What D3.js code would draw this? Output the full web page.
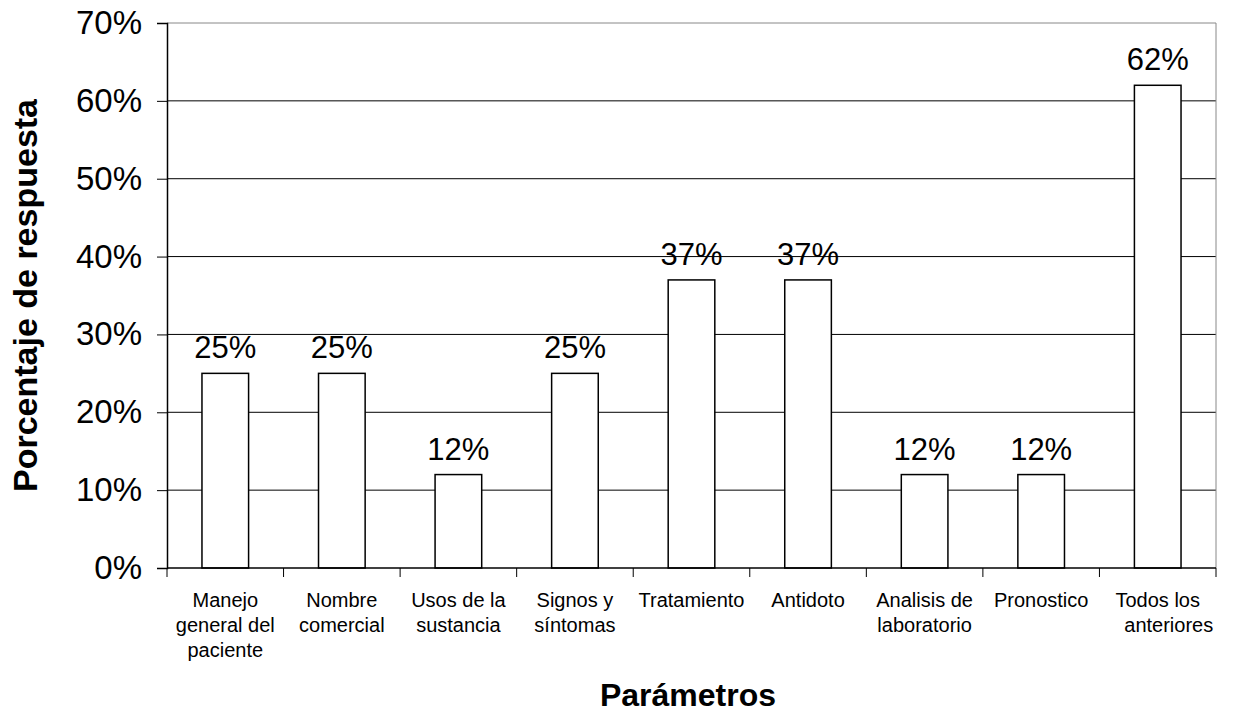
<!DOCTYPE html>
<html>
<head>
<meta charset="utf-8">
<script src="https://cdn.jsdelivr.net/npm/d3@7"></script>
<style>
  body { margin: 0; background: #fff; }
  svg { display: block; font-family: Arial, "Liberation Sans", sans-serif; }
</style>
</head>
<body>
<div id="chart"></div>
<script>
const categories = [
  ["Manejo", "general del", "paciente"],
  ["Nombre", "comercial"],
  ["Usos de la", "sustancia"],
  ["Signos y", "síntomas"],
  ["Tratamiento"],
  ["Antidoto"],
  ["Analisis de", "laboratorio"],
  ["Pronostico"],
  ["Todos los", "anteriores"]
];
const values = [25, 25, 12, 25, 37, 37, 12, 12, 62];
const yTicks = [0, 10, 20, 30, 40, 50, 60, 70];

const width = 1233;
const height = 714;
const margin = { top: 23, right: 17, bottom: 146, left: 167 };

const svg = d3.select("#chart").append("svg")
    .attr("width", width)
    .attr("height", height);

const x = d3.scaleBand()
    .domain(d3.range(categories.length))
    .range([margin.left, width - margin.right]);

const y = d3.scaleLinear()
    .domain([0, 70])
    .range([height - margin.bottom, margin.top]);

// gridlines
svg.append("g")
    .selectAll("line")
    .data(yTicks.slice(1))
    .join("line")
    .attr("x1", margin.left)
    .attr("x2", width - margin.right)
    .attr("y1", d => y(d))
    .attr("y2", d => y(d))
    .attr("stroke", d => d === 70 ? "#888" : "#000")
    .attr("stroke-width", 1);

// right border
svg.append("line")
    .attr("x1", width - margin.right)
    .attr("x2", width - margin.right)
    .attr("y1", y(70))
    .attr("y2", y(0))
    .attr("stroke", "#888");

// bars
const barW = x.bandwidth() * 0.4;
svg.append("g")
    .selectAll("rect")
    .data(values)
    .join("rect")
    .attr("x", (d, i) => x(i) + (x.bandwidth() - barW) / 2)
    .attr("y", d => y(d))
    .attr("width", barW)
    .attr("height", d => y(0) - y(d))
    .attr("fill", "#fff")
    .attr("stroke", "#000")
    .attr("stroke-width", 1.5);

// data labels
svg.append("g")
    .selectAll("text")
    .data(values)
    .join("text")
    .attr("x", (d, i) => x(i) + x.bandwidth() / 2)
    .attr("y", d => y(d) - 15)
    .attr("text-anchor", "middle")
    .attr("font-size", 31)
    .text(d => d + "%");

// y axis
const yAxis = svg.append("g")
    .attr("transform", `translate(${margin.left},0)`)
    .call(d3.axisLeft(y).tickValues(yTicks).tickSize(10).tickPadding(15).tickFormat(d => d + "%"));
yAxis.select(".domain").attr("stroke", "#000").attr("stroke-width", 1.5);
yAxis.selectAll(".tick line").attr("stroke", "#000");
yAxis.selectAll(".tick text")
    .attr("font-size", 33)
    .attr("fill", "#000")
    .attr("font-family", "Arial, 'Liberation Sans', sans-serif");

// x axis
const xAxis = svg.append("g")
    .attr("transform", `translate(0,${y(0)})`);
xAxis.append("line")
    .attr("x1", margin.left)
    .attr("x2", width - margin.right)
    .attr("stroke", "#000")
    .attr("stroke-width", 1.5);
xAxis.selectAll(".xtick")
    .data(d3.range(categories.length + 1))
    .join("line")
    .attr("class", "xtick")
    .attr("x1", i => i < categories.length ? x(i) : x.range()[1])
    .attr("x2", i => i < categories.length ? x(i) : x.range()[1])
    .attr("y1", 0)
    .attr("y2", 9)
    .attr("stroke", "#000");

const labels = xAxis.selectAll(".xlabel")
    .data(categories)
    .join("text")
    .attr("class", "xlabel")
    .attr("text-anchor", "middle")
    .attr("font-size", 20)
    .attr("transform", (d, i) => `translate(${x(i) + x.bandwidth() / 2},39)`);
labels.selectAll("tspan")
    .data((d, i) => d.map((t, j) => ({ t, j, last: i === categories.length - 1 })))
    .join("tspan")
    .attr("x", d => d.last && d.j > 0 ? 11 : 0)
    .attr("y", d => d.j * 25)
    .text(d => d.t);

// axis titles
svg.append("text")
    .attr("transform", `translate(37,${(y(0) + y(70)) / 2}) rotate(-90)`)
    .attr("text-anchor", "middle")
    .attr("font-size", 34)
    .attr("font-weight", "bold")
    .text("Porcentaje de respuesta");

svg.append("text")
    .attr("x", 688)
    .attr("y", 706)
    .attr("text-anchor", "middle")
    .attr("font-size", 32)
    .attr("font-weight", "bold")
    .text("Parámetros");
</script>
</body>
</html>
